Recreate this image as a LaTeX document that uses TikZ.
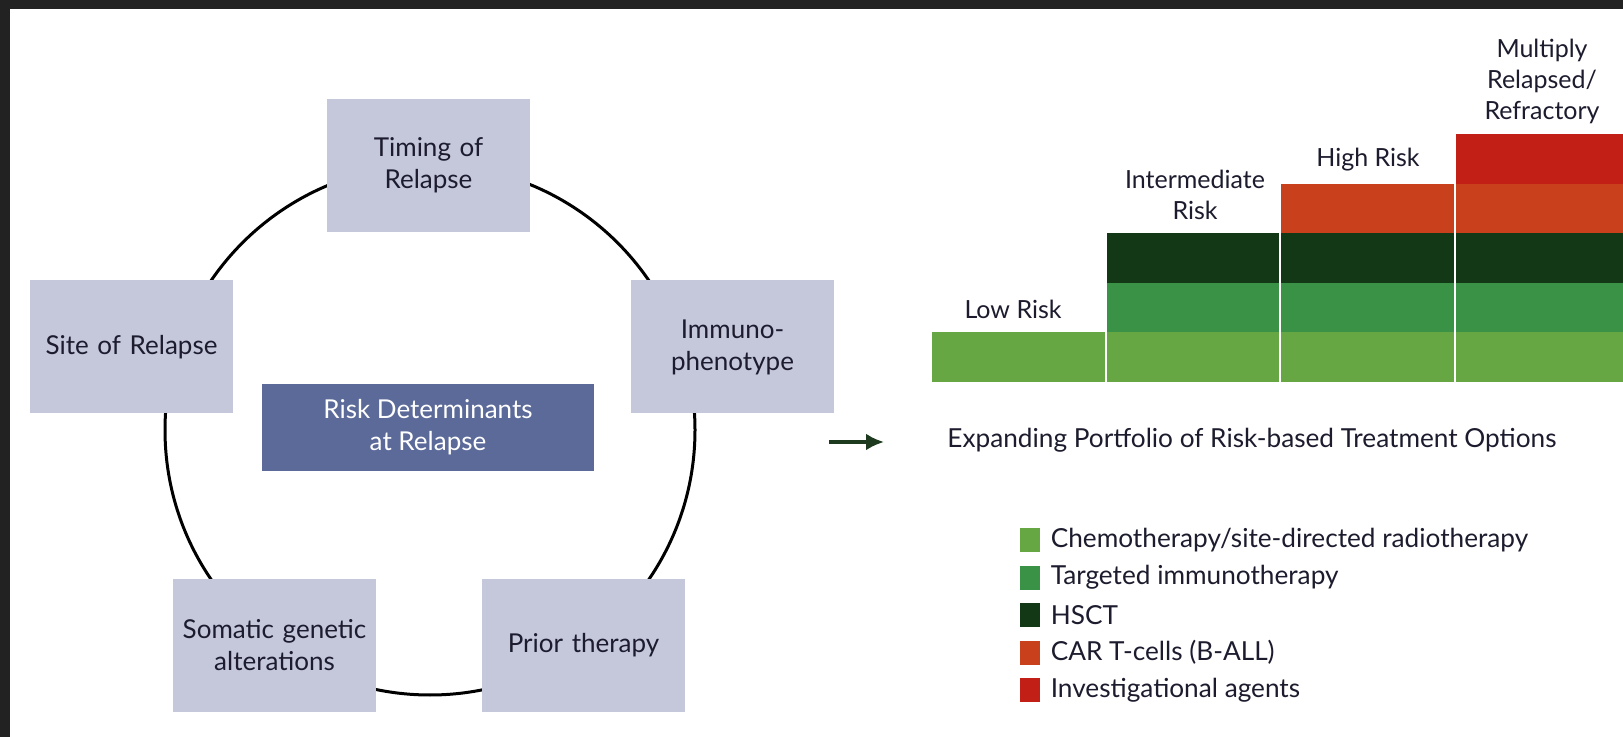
\documentclass[tikz,border=0pt]{standalone}
\usepackage{fontspec}
\setmainfont{Lato}
\usetikzlibrary{positioning,arrows.meta}

\definecolor{boxgray}{HTML}{C5C7DB}
\definecolor{slate}{HTML}{5B6A98}
\definecolor{inkblue}{HTML}{1C1C2E}
\definecolor{framegray}{HTML}{222222}
\definecolor{arrowgreen}{HTML}{1E3A1E}
\definecolor{bar1}{HTML}{67A743}
\definecolor{bar2}{HTML}{3A9246}
\definecolor{bar3}{HTML}{133815}
\definecolor{bar4}{HTML}{C8411C}
\definecolor{bar5}{HTML}{C21F17}

\begin{document}
\begin{tikzpicture}[x=0.5pt, y=-0.5pt,
    factor/.style={rectangle, fill=boxgray, minimum width=101.5pt, minimum height=66.5pt, text width=95pt, align=center, inner sep=0pt, text=inkblue, font=\fontsize{13}{16}\selectfont},
    riskhead/.style={align=center, inner sep=0pt, text=inkblue, font=\fontsize{12.5}{15.5}\selectfont},
    legsq/.style={rectangle, minimum width=10pt, minimum height=12pt, inner sep=0pt},
    legtext/.style={anchor=west, inner sep=0pt, text=inkblue, font=\fontsize{13.1}{15}\selectfont}]

    \useasboundingbox (0,0) rectangle (1623,737);
    \fill[white] (0,0) rectangle (1623,737);
    \fill[framegray] (0,0) rectangle (1623,9);
    \fill[framegray] (0,0) rectangle (10,737);

    % ring of risk factors
    \coordinate (ringc) at (430,430);
    \draw[line width=1.5pt] (ringc) circle[radius=132.5pt];

    \node[factor] (timing) at (428.5,165.5) {Timing of\\Relapse};
    \node[factor] (site) at (131.5,347) {Site of Relapse};
    \node[factor] (immuno) at (732.5,347) {Immuno-\\phenotype};
    \node[factor] (somatic) at (274.5,645.5) {Somatic genetic\\alterations};
    \node[factor] (prior) at (583.5,645.5) {Prior therapy};
    \node[rectangle, fill=slate, minimum width=166pt, minimum height=43.5pt, inner sep=0pt, align=center, text=white, font=\fontsize{13}{16}\selectfont] (determinants) at (428,427.5) {Risk Determinants\\at Relapse};

    \coordinate (arrowstart) at (829,442);
    \coordinate (arrowend) at (884,442);
    \draw[-{Latex[length=9pt,width=8.5pt]}, line width=1.7pt, arrowgreen] (arrowstart) -- (arrowend);

    % stepped bars
    \foreach \xl/\xr/\n in {932/1105/1, 1107/1279/3, 1281/1454/4, 1456/1623/5} {
        \foreach \r in {1,...,\n} {
            \fill[bar\r] (\xl,{382-(\r-1)*49.5}) rectangle (\xr,{382-\r*49.5});
        }
    }

    \node[riskhead] (low) at (1013,309) {Low Risk};
    \node[riskhead] (inter) at (1195,195) {Intermediate\\Risk};
    \node[riskhead] (high) at (1368,160) {High Risk};
    \node[riskhead] (multi) at (1542,81) {Multiply\\Relapsed/\\Refractory};

    \node[legtext] (portfolio) at (947,440) {Expanding Portfolio of Risk-based Treatment Options};

    % legend
    \node[legsq, fill=bar1] (leg1) at (1030,540) {};
    \node[legsq, fill=bar2] (leg2) at (1030,577.5) {};
    \node[legsq, fill=bar3] (leg3) at (1030,615) {};
    \node[legsq, fill=bar4] (leg4) at (1030,652.5) {};
    \node[legsq, fill=bar5] (leg5) at (1030,690) {};
    \node[legtext, right=5pt of leg1] (chemo) {Chemotherapy/site-directed radiotherapy};
    \node[legtext, right=5pt of leg2] (targeted) {Targeted immunotherapy};
    \node[legtext, right=5pt of leg3] (hsct) {HSCT};
    \node[legtext, right=5pt of leg4] (cart) {CAR T-cells (B-ALL)};
    \node[legtext, right=5pt of leg5] (invest) {Investigational agents};
\end{tikzpicture}
\end{document}
